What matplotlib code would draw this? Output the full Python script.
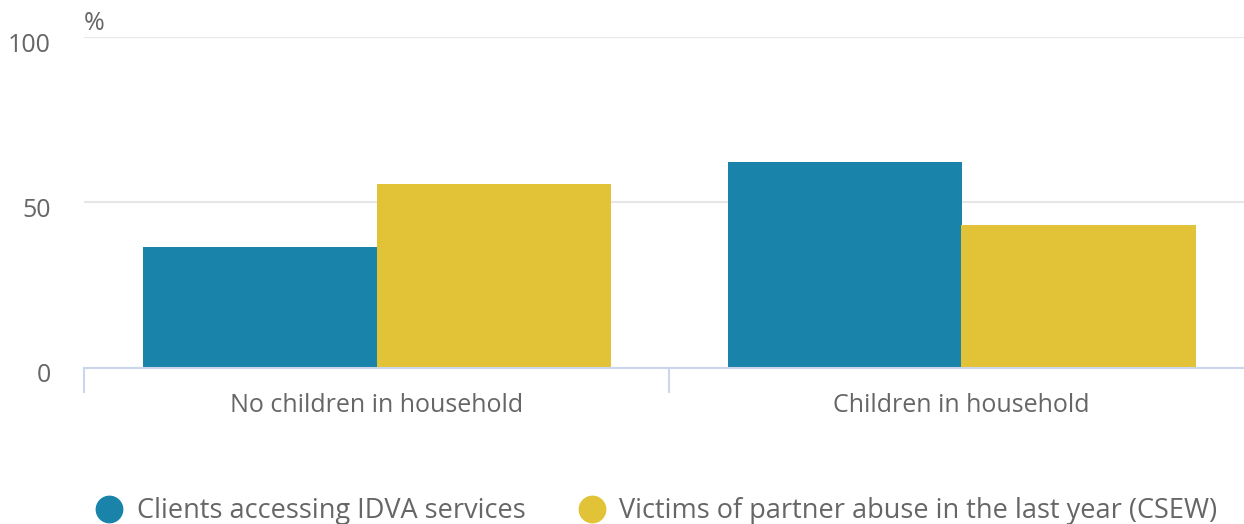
import numpy as np
import matplotlib.pyplot as plt
from matplotlib.lines import Line2D
from matplotlib.transforms import ScaledTranslation

plt.rcParams['font.family'] = ['Open Sans', 'DejaVu Sans']

# data
categories = ['No children in household', 'Children in household']
series_names = ['Clients accessing IDVA services',
                'Victims of partner abuse in the last year (CSEW)']
idva = [36.4, 62.1]
csew = [55.7, 43.3]
y_ticks = [0, 50, 100]
colors = ['#1a83aa', '#e2c337']
text_col = '#666666'

W, H = 1244, 524
fig = plt.figure(figsize=(W / 100, H / 100), dpi=100)
# plot area runs a little past the right edge, like the original
ax = fig.add_axes([84 / W, 1 - 367.5 / H, 1170 / W, (367.5 - 37.3) / H])

x = np.arange(len(categories))
w = 0.4
ax.bar(x - w / 2, idva, width=w, color=colors[0], zorder=3)
ax.bar(x + w / 2, csew, width=w, color=colors[1], zorder=3)

ax.set_xlim(-0.5, 1.5)
ax.set_ylim(0, 100)
ax.set_yticks(y_ticks)
ax.set_yticklabels([str(v) for v in y_ticks])
ax.yaxis.grid(True, color='#e6e6e6', linewidth=1.5, zorder=0)
ax.tick_params(axis='y', length=0, pad=24, labelsize=18, labelcolor=text_col)
off = ScaledTranslation(0, -5 / 100, fig.dpi_scale_trans)
for lab in ax.get_yticklabels():
    lab.set_transform(lab.get_transform() + off)

# x axis: category boundaries get tick marks, labels at centres
ax.set_xticks([-0.5, 0.5])
ax.set_xticklabels([])
ax.tick_params(axis='x', length=18, width=1.5, color='#ccd6eb')
ax.set_xticks(x, minor=True)
ax.set_xticklabels(categories, minor=True)
ax.tick_params(axis='x', which='minor', length=0, pad=18, labelsize=18,
               labelcolor=text_col)

for s in ['top', 'right', 'left']:
    ax.spines[s].set_visible(False)
ax.spines['bottom'].set_color('#ccd6eb')
ax.spines['bottom'].set_linewidth(1.5)
ax.spines['bottom'].set_zorder(4)

ax.text(0, 1.005, '%', transform=ax.transAxes, fontsize=18, color=text_col,
        ha='left', va='bottom')

handles = [Line2D([], [], marker='o', linestyle='', markersize=19,
                  markerfacecolor=c, markeredgecolor=c) for c in colors]
fig.legend(handles, series_names, loc='center', ncol=2,
           bbox_to_anchor=(655 / W, 1 - 511 / H), frameon=False,
           fontsize=19.5, labelcolor=text_col, handletextpad=0.4,
           columnspacing=1.85, handlelength=1.2)

fig.savefig('out.png', dpi=100)
